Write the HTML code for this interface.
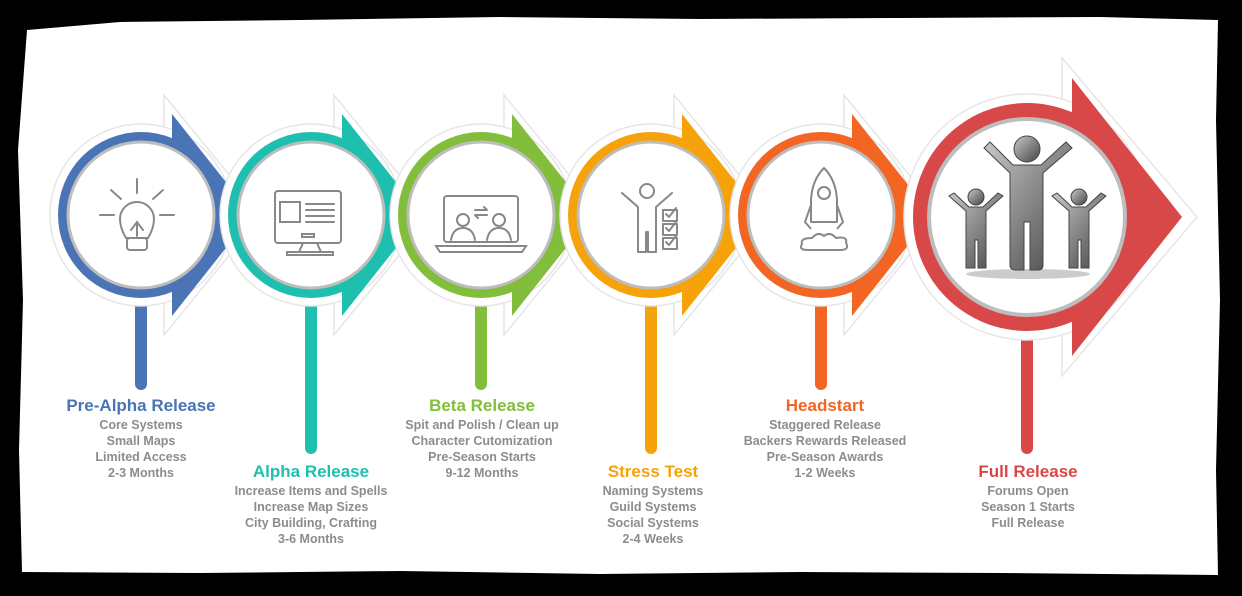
<!DOCTYPE html>
<html><head><meta charset="utf-8"><style>
html,body{margin:0;padding:0;background:#000;width:1242px;height:596px;overflow:hidden}
svg{display:block}
text{font-family:"Liberation Sans",sans-serif;font-weight:bold;text-anchor:middle}
.t{font-size:17px}
.b{font-size:12.5px;fill:#8c8c8c}
</style></head><body>
<svg width="1242" height="596" viewBox="0 0 1242 596" xmlns="http://www.w3.org/2000/svg">
<defs>
<radialGradient id="sh" cx="0.5" cy="0.5" r="0.5">
<stop offset="0.8" stop-color="#000" stop-opacity="0.35"/><stop offset="1" stop-color="#000" stop-opacity="0"/></radialGradient>
<linearGradient id="pg" x1="0" y1="0" x2="1" y2="1"><stop offset="0" stop-color="#c8c8c8"/><stop offset="1" stop-color="#444"/></linearGradient>
</defs>
<path d="M27 30 L120 22 L300 20 L500 17 L700 19 L900 18 L1100 17 L1218 20 L1216 120 L1220 300 L1216 470 L1218 575 L1000 573 L800 572 L600 574 L400 571 L200 573 L22 572 L19 450 L23 300 L18 150 Z" fill="#fff"/>

<!-- stage template drawn in order -->
<g id="s1">
<rect x="135" y="280" width="12" height="110" rx="6" fill="#4a74b5"/>
<polygon points="164,95 262,215 164,335" fill="#fff" stroke="#e6e6e6" stroke-width="1.5"/>
<circle cx="141" cy="215" r="91" fill="#fff" stroke="#e6e6e6" stroke-width="1.5"/>
<polygon points="172,114 252,215 172,316" fill="#4a74b5"/>
<circle cx="141" cy="215" r="83" fill="#4a74b5"/>
<circle cx="141" cy="215" r="73" fill="#fff" stroke="#bdbdbd" stroke-width="3"/>
<g fill="none" stroke="#888" stroke-width="2" stroke-linecap="round">
<line x1="137" y1="179" x2="137" y2="193"/><line x1="111" y1="190" x2="121" y2="199"/><line x1="163" y1="190" x2="153" y2="199"/>
<line x1="100" y1="215" x2="114" y2="215"/><line x1="160" y1="215" x2="174" y2="215"/>
<path d="M126 238 Q120 228 120 219 A17 17 0 1 1 154 219 Q154 228 148 238 Z"/>
<path d="M131 230 L137 222 L143 230"/>
<line x1="137" y1="222" x2="137" y2="236"/>
<rect x="127" y="238" width="20" height="12" rx="3"/>
</g>
</g>

<g>
<rect x="305" y="280" width="12" height="174" rx="6" fill="#1fbfb0"/>
<polygon points="334,95 432,215 334,335" fill="#fff" stroke="#e6e6e6" stroke-width="1.5"/>
<circle cx="311" cy="215" r="91" fill="#fff" stroke="#e6e6e6" stroke-width="1.5"/>
<polygon points="342,114 422,215 342,316" fill="#1fbfb0"/>
<circle cx="311" cy="215" r="83" fill="#1fbfb0"/>
<circle cx="311" cy="215" r="73" fill="#fff" stroke="#bdbdbd" stroke-width="3"/>
<g fill="none" stroke="#888" stroke-width="2" stroke-linecap="round">
<rect x="275" y="191" width="66" height="52" rx="3"/>
<rect x="280" y="202" width="20" height="20"/>
<line x1="306" y1="204" x2="334" y2="204"/><line x1="306" y1="210" x2="334" y2="210"/><line x1="306" y1="216" x2="334" y2="216"/><line x1="306" y1="222" x2="334" y2="222"/>
<rect x="302" y="234" width="12" height="3"/>
<path d="M303 243 L299 252 M317 243 L321 252"/><rect x="287" y="252" width="46" height="3"/>
</g>
</g>

<g>
<rect x="475" y="280" width="12" height="110" rx="6" fill="#82bd3b"/>
<polygon points="504,95 602,215 504,335" fill="#fff" stroke="#e6e6e6" stroke-width="1.5"/>
<circle cx="481" cy="215" r="91" fill="#fff" stroke="#e6e6e6" stroke-width="1.5"/>
<polygon points="512,114 592,215 512,316" fill="#82bd3b"/>
<circle cx="481" cy="215" r="83" fill="#82bd3b"/>
<circle cx="481" cy="215" r="73" fill="#fff" stroke="#bdbdbd" stroke-width="3"/>
<g fill="none" stroke="#888" stroke-width="2" stroke-linecap="round">
<rect x="444" y="196" width="74" height="46" rx="3"/>
<path d="M436 246 L526 246 L522 252 L440 252 Z"/>
<circle cx="463" cy="220" r="6"/><path d="M451 240 Q453 228 463 228 Q473 228 475 240"/>
<circle cx="499" cy="220" r="6"/><path d="M487 240 Q489 228 499 228 Q509 228 511 240"/>
<path d="M475 210 L487 210 M484 207 L487 210 M475 215 L487 215 M478 218 L475 215"/>
</g>
</g>

<g>
<rect x="645" y="280" width="12" height="174" rx="6" fill="#f6a20a"/>
<polygon points="674,95 772,215 674,335" fill="#fff" stroke="#e6e6e6" stroke-width="1.5"/>
<circle cx="651" cy="215" r="91" fill="#fff" stroke="#e6e6e6" stroke-width="1.5"/>
<polygon points="682,114 762,215 682,316" fill="#f6a20a"/>
<circle cx="651" cy="215" r="83" fill="#f6a20a"/>
<circle cx="651" cy="215" r="73" fill="#fff" stroke="#bdbdbd" stroke-width="3"/>
<g fill="none" stroke="#888" stroke-width="2" stroke-linecap="round" stroke-linejoin="round">
<circle cx="647" cy="191" r="7"/>
<path d="M622 193 L638 207 L638 252 L646 252 L646 232 L648 232 L648 252 L656 252 L656 207 L672 193"/>
<rect x="663" y="210" width="14" height="11"/><rect x="663" y="224" width="14" height="11"/><rect x="663" y="238" width="14" height="11"/>
<path d="M666 214 L669 217 L676 208 M666 228 L669 231 L676 222 M666 242 L669 245 L676 236"/>
</g>
</g>

<g>
<rect x="815" y="280" width="12" height="110" rx="6" fill="#f26522"/>
<polygon points="844,95 942,215 844,335" fill="#fff" stroke="#e6e6e6" stroke-width="1.5"/>
<circle cx="821" cy="215" r="91" fill="#fff" stroke="#e6e6e6" stroke-width="1.5"/>
<polygon points="852,114 932,215 852,316" fill="#f26522"/>
<circle cx="821" cy="215" r="83" fill="#f26522"/>
<circle cx="821" cy="215" r="73" fill="#fff" stroke="#bdbdbd" stroke-width="3"/>
<g fill="none" stroke="#888" stroke-width="2" stroke-linejoin="round">
<path d="M824 168 Q812 180 811 200 L811 222 L837 222 L837 200 Q836 180 824 168 Z"/>
<circle cx="824" cy="193" r="6"/>
<path d="M811 205 L805 222 L811 229 M837 205 L843 222 L837 229"/>
<path d="M812 238 Q800 238 802 244 Q798 250 808 250 L840 250 Q850 250 846 243 Q848 236 836 238 Q830 231 824 236 Q818 231 812 238 Z"/>
</g>
</g>

<g>
<rect x="1021" y="330" width="12" height="124" rx="6" fill="#d94848"/>
<polygon points="1062,58 1197,217 1062,376" fill="#fff" stroke="#e6e6e6" stroke-width="1.5"/>
<circle cx="1027" cy="217" r="123" fill="#fff" stroke="#e6e6e6" stroke-width="1.5"/>
<polygon points="1072,78 1182,217 1072,356" fill="#d94848"/>
<circle cx="1027" cy="217" r="114" fill="#d94848"/>
<circle cx="1027" cy="217" r="98" fill="#fff" stroke="#bdbdbd" stroke-width="4"/>
<ellipse cx="1028" cy="274" rx="62" ry="5" fill="#aaa" opacity="0.6"/>
<g fill="url(#pg)" stroke="#444" stroke-width="1">
<circle cx="1027" cy="149" r="13"/>
<path d="M984 148 L1010 173 L1010 265 Q1010 270 1016 270 L1024 270 L1024 222 L1030 222 L1030 270 L1038 270 Q1043 270 1043 265 L1043 173 L1072 148 L1066 142 L1041 165 L1013 165 L990 142 Z"/>
<circle cx="976" cy="197" r="8"/>
<path d="M949 196 L966 211 L966 268 L975 268 L975 240 L978 240 L978 268 L986 268 L986 211 L1003 196 L998 193 L983 207 L969 207 L954 193 Z"/>
<circle cx="1079" cy="197" r="8"/>
<path d="M1052 196 L1069 211 L1069 268 L1078 268 L1078 240 L1081 240 L1081 268 L1089 268 L1089 211 L1106 196 L1101 193 L1086 207 L1072 207 L1057 193 Z"/>
</g>
</g>

<g>
<text x="141" y="411" class="t" fill="#4a74b5">Pre-Alpha Release</text>
<text x="141" y="429" class="b">Core Systems</text><text x="141" y="445" class="b">Small Maps</text><text x="141" y="461" class="b">Limited Access</text><text x="141" y="477" class="b">2-3 Months</text>
<text x="311" y="477" class="t" fill="#1fbfb0">Alpha Release</text>
<text x="311" y="495" class="b">Increase Items and Spells</text><text x="311" y="511" class="b">Increase Map Sizes</text><text x="311" y="527" class="b">City Building, Crafting</text><text x="311" y="543" class="b">3-6 Months</text>
<text x="482" y="411" class="t" fill="#82bd3b">Beta Release</text>
<text x="482" y="429" class="b">Spit and Polish / Clean up</text><text x="482" y="445" class="b">Character Cutomization</text><text x="482" y="461" class="b">Pre-Season Starts</text><text x="482" y="477" class="b">9-12 Months</text>
<text x="653" y="477" class="t" fill="#f6a20a">Stress Test</text>
<text x="653" y="495" class="b">Naming Systems</text><text x="653" y="511" class="b">Guild Systems</text><text x="653" y="527" class="b">Social Systems</text><text x="653" y="543" class="b">2-4 Weeks</text>
<text x="825" y="411" class="t" fill="#f26522">Headstart</text>
<text x="825" y="429" class="b">Staggered Release</text><text x="825" y="445" class="b">Backers Rewards Released</text><text x="825" y="461" class="b">Pre-Season Awards</text><text x="825" y="477" class="b">1-2 Weeks</text>
<text x="1028" y="477" class="t" fill="#d94848">Full Release</text>
<text x="1028" y="495" class="b">Forums Open</text><text x="1028" y="511" class="b">Season 1 Starts</text><text x="1028" y="527" class="b">Full Release</text>
</g>
</svg>
</body></html>
